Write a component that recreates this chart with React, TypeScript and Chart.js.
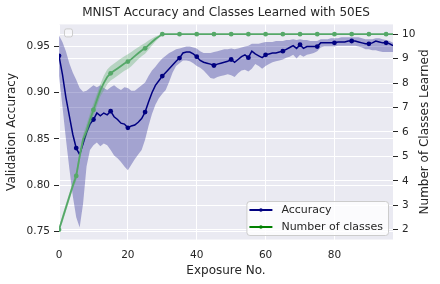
import React, { useEffect, useRef } from 'react';
import { Chart, registerables } from 'chart.js';

Chart.register(...registerables);

const FONT = "'DejaVu Sans', 'Liberation Sans', sans-serif";
const TEXT = '#262626';

const TITLE = 'MNIST Accuracy and Classes Learned with 50ES';
const X_TITLE = 'Exposure No.';
const Y_TITLE = 'Validation Accuracy';
const Y2_TITLE = 'Number of Classes Learned';
const SERIES_ACC = 'Accuracy';
const SERIES_CLS = 'Number of classes';

const EXPOSURES = [
  0, 1, 2, 3, 4, 5, 6, 7, 8, 9, 10, 11, 12, 13, 14, 15, 16, 17, 18, 19,
  20, 21, 22, 23, 24, 25, 26, 27, 28, 29, 30, 31, 32, 33, 34, 35, 36, 37, 38, 39,
  40, 41, 42, 43, 44, 45, 46, 47, 48, 49, 50, 51, 52, 53, 54, 55, 56, 57, 58, 59,
  60, 61, 62, 63, 64, 65, 66, 67, 68, 69, 70, 71, 72, 73, 74, 75, 76, 77, 78, 79,
  80, 81, 82, 83, 84, 85, 86, 87, 88, 89, 90, 91, 92, 93, 94, 95, 96, 97,
];

const ACC_MEAN = [
  0.940, 0.920, 0.895, 0.875, 0.855, 0.840, 0.833, 0.845, 0.857, 0.866,
  0.871, 0.878, 0.875, 0.878, 0.876, 0.880, 0.874, 0.871, 0.867, 0.866,
  0.862, 0.864, 0.865, 0.868, 0.872, 0.879, 0.890, 0.900, 0.908, 0.913,
  0.918, 0.922, 0.926, 0.930, 0.934, 0.9375, 0.943, 0.944, 0.944, 0.942,
  0.939, 0.935, 0.933, 0.932, 0.931, 0.9295, 0.931, 0.932, 0.933, 0.934,
  0.936, 0.933, 0.936, 0.939, 0.941, 0.938, 0.945, 0.942, 0.940, 0.938,
  0.941, 0.942, 0.943, 0.943, 0.944, 0.945, 0.947, 0.949, 0.951, 0.948,
  0.952, 0.948, 0.950, 0.950, 0.950, 0.950, 0.954, 0.954, 0.954, 0.954,
  0.954, 0.955, 0.955, 0.955, 0.956, 0.956, 0.956, 0.955, 0.954, 0.953,
  0.953, 0.954, 0.956, 0.955, 0.954, 0.954, 0.953, 0.951,
];

const ACC_HI = [
  0.962, 0.955, 0.945, 0.932, 0.922, 0.914, 0.905, 0.901, 0.902, 0.905,
  0.908, 0.906, 0.908, 0.905, 0.903, 0.906, 0.908, 0.905, 0.903, 0.906,
  0.905, 0.902, 0.902, 0.905, 0.908, 0.911, 0.918, 0.924, 0.928, 0.933,
  0.937, 0.940, 0.943, 0.945, 0.947, 0.948, 0.949, 0.950, 0.950, 0.949,
  0.948, 0.945, 0.943, 0.943, 0.943, 0.944, 0.945, 0.946, 0.947, 0.947,
  0.948, 0.947, 0.948, 0.949, 0.950, 0.951, 0.953, 0.953, 0.953, 0.954,
  0.955, 0.955, 0.955, 0.956, 0.956, 0.956, 0.957, 0.957, 0.958, 0.957,
  0.958, 0.957, 0.957, 0.956, 0.956, 0.956, 0.958, 0.958, 0.958, 0.959,
  0.959, 0.959, 0.960, 0.960, 0.960, 0.960, 0.960, 0.960, 0.959, 0.958,
  0.958, 0.958, 0.959, 0.959, 0.958, 0.957, 0.956, 0.954,
];

const ACC_LO = [
  0.918, 0.885, 0.850, 0.818, 0.788, 0.765, 0.754, 0.780, 0.820, 0.838,
  0.843, 0.846, 0.842, 0.845, 0.843, 0.838, 0.832, 0.829, 0.825, 0.820,
  0.816, 0.822, 0.828, 0.833, 0.838, 0.849, 0.864, 0.877, 0.887, 0.894,
  0.899, 0.903, 0.912, 0.922, 0.929, 0.932, 0.935, 0.935, 0.934, 0.932,
  0.929, 0.927, 0.924, 0.920, 0.916, 0.915, 0.917, 0.918, 0.919, 0.920,
  0.919, 0.917, 0.921, 0.924, 0.925, 0.923, 0.926, 0.931, 0.929, 0.926,
  0.929, 0.931, 0.933, 0.934, 0.935, 0.936, 0.938, 0.939, 0.941, 0.937,
  0.941, 0.939, 0.941, 0.942, 0.943, 0.945, 0.949, 0.950, 0.950, 0.950,
  0.950, 0.951, 0.951, 0.951, 0.951, 0.951, 0.951, 0.950, 0.949, 0.947,
  0.947, 0.946, 0.946, 0.945, 0.944, 0.944, 0.944, 0.944,
];

const CLASSES = [
  2.0, 2.45, 2.9, 3.35, 3.8, 4.2, 5.0, 5.7, 6.05, 6.5,
  6.9, 7.3, 7.7, 8.0, 8.25, 8.4, 8.5, 8.6, 8.7, 8.8,
  8.88, 8.98, 9.1, 9.22, 9.33, 9.42, 9.55, 9.68, 9.8, 9.9,
  10, 10, 10, 10, 10, 10, 10, 10, 10, 10,
  10, 10, 10, 10, 10, 10, 10, 10, 10, 10,
  10, 10, 10, 10, 10, 10, 10, 10, 10, 10,
  10, 10, 10, 10, 10, 10, 10, 10, 10, 10,
  10, 10, 10, 10, 10, 10, 10, 10, 10, 10,
  10, 10, 10, 10, 10, 10, 10, 10, 10, 10,
  10, 10, 10, 10, 10, 10, 10, 10,
];

const CLASS_HI = [
  2.1, 2.6, 3.05, 3.5, 3.95, 4.4, 5.2, 5.9, 6.3, 6.75,
  7.15, 7.55, 7.95, 8.3, 8.55, 8.7, 8.8, 8.9, 9.0, 9.1,
  9.18, 9.27, 9.37, 9.47, 9.56, 9.64, 9.74, 9.82, 9.9, 9.96,
  10, 10, 10, 10, 10, 10, 10, 10, 10, 10,
  10, 10, 10, 10, 10, 10, 10, 10, 10, 10,
  10, 10, 10, 10, 10, 10, 10, 10, 10, 10,
  10, 10, 10, 10, 10, 10, 10, 10, 10, 10,
  10, 10, 10, 10, 10, 10, 10, 10, 10, 10,
  10, 10, 10, 10, 10, 10, 10, 10, 10, 10,
  10, 10, 10, 10, 10, 10, 10, 10,
];

const CLASS_LO = [
  1.95, 2.3, 2.75, 3.2, 3.65, 4.0, 4.8, 5.5, 5.8, 6.25,
  6.65, 7.05, 7.45, 7.7, 7.95, 8.1, 8.2, 8.3, 8.4, 8.5,
  8.58, 8.69, 8.83, 8.97, 9.1, 9.2, 9.36, 9.54, 9.7, 9.84,
  10, 10, 10, 10, 10, 10, 10, 10, 10, 10,
  10, 10, 10, 10, 10, 10, 10, 10, 10, 10,
  10, 10, 10, 10, 10, 10, 10, 10, 10, 10,
  10, 10, 10, 10, 10, 10, 10, 10, 10, 10,
  10, 10, 10, 10, 10, 10, 10, 10, 10, 10,
  10, 10, 10, 10, 10, 10, 10, 10, 10, 10,
  10, 10, 10, 10, 10, 10, 10, 10,
];

const NAVY = '#000080';
const GREEN_LINE = '#55a868';
const GREEN_LEGEND = '#008000';

const markerRadius = (ctx: any) => (ctx.dataIndex % 5 === 0 ? 2.4 : 0);

const bgPlugin = {
  id: 'bg',
  beforeDraw(chart: any) {
    const { ctx, chartArea: a } = chart;
    ctx.save();
    ctx.fillStyle = '#ffffff';
    ctx.fillRect(0, 0, chart.width, chart.height);
    ctx.fillStyle = '#EAEAF2';
    ctx.fillRect(a.left, a.top, a.right - a.left, a.bottom - a.top);
    ctx.restore();
  },
};

function roundRect(ctx: CanvasRenderingContext2D, x: number, y: number, w: number, h: number, r: number) {
  ctx.beginPath();
  ctx.moveTo(x + r, y);
  ctx.lineTo(x + w - r, y);
  ctx.arcTo(x + w, y, x + w, y + r, r);
  ctx.lineTo(x + w, y + h - r);
  ctx.arcTo(x + w, y + h, x + w - r, y + h, r);
  ctx.lineTo(x + r, y + h);
  ctx.arcTo(x, y + h, x, y + h - r, r);
  ctx.lineTo(x, y + r);
  ctx.arcTo(x, y, x + r, y, r);
  ctx.closePath();
}

const overlayPlugin = {
  id: 'overlay',
  afterDraw(chart: any) {
    const { ctx, chartArea: a } = chart;
    ctx.save();

    // right axis title (reads bottom to top)
    ctx.fillStyle = TEXT;
    ctx.font = `12px ${FONT}`;
    ctx.textAlign = 'center';
    ctx.textBaseline = 'middle';
    ctx.translate(chart.width - 15, (a.top + a.bottom) / 2);
    ctx.rotate(-Math.PI / 2);
    ctx.fillText(Y2_TITLE, 0, 0);
    ctx.setTransform(1, 0, 0, 1, 0, 0);

    // empty legend box at top-left
    roundRect(ctx, a.left + 5.5, a.top + 4.5, 8, 8, 2);
    ctx.fillStyle = 'rgba(255,255,255,0.5)';
    ctx.fill();
    ctx.strokeStyle = '#cccccc';
    ctx.lineWidth = 1;
    ctx.stroke();

    // legend bottom-right
    const items = [
      { label: SERIES_ACC, color: NAVY },
      { label: SERIES_CLS, color: GREEN_LEGEND },
    ];
    ctx.font = `11px ${FONT}`;
    const tw = Math.max(...items.map((i) => ctx.measureText(i.label).width));
    const w = 35 + tw + 5;
    const h = 34;
    const x = a.right - 5 - w;
    const y = a.bottom - 4.5 - h;
    roundRect(ctx, x + 0.5, y + 0.5, w, h, 3);
    ctx.fillStyle = 'rgba(255,255,255,0.8)';
    ctx.fill();
    ctx.strokeStyle = '#cccccc';
    ctx.stroke();
    items.forEach((it, i) => {
      const cy = y + 9 + i * 17;
      ctx.strokeStyle = it.color;
      ctx.lineWidth = 2;
      ctx.beginPath();
      ctx.moveTo(x + 3, cy);
      ctx.lineTo(x + 26, cy);
      ctx.stroke();
      ctx.fillStyle = it.color;
      ctx.beginPath();
      ctx.arc(x + 14.5, cy, 1.8, 0, Math.PI * 2);
      ctx.fill();
      ctx.fillStyle = TEXT;
      ctx.textAlign = 'left';
      ctx.textBaseline = 'middle';
      ctx.fillText(it.label, x + 35, cy + 0.5);
    });
    ctx.restore();
  },
};

export default function App() {
  const ref = useRef<HTMLCanvasElement>(null);

  useEffect(() => {
    if (!ref.current) return;
    const chart = new Chart(ref.current, {
      type: 'line',
      data: {
        labels: EXPOSURES,
        datasets: [
          {
            label: SERIES_CLS,
            data: CLASSES,
            yAxisID: 'y1',
            borderColor: GREEN_LINE,
            backgroundColor: GREEN_LINE,
            borderWidth: 1.8,
            pointRadius: markerRadius,
            pointBackgroundColor: GREEN_LINE,
            pointBorderWidth: 0,
            fill: false,
            tension: 0,
          },
          {
            label: 'classHi',
            data: CLASS_HI,
            yAxisID: 'y1',
            borderColor: 'transparent',
            borderWidth: 0,
            pointRadius: 0,
            backgroundColor: 'rgba(85,168,104,0.35)',
            fill: '+1',
          },
          {
            label: 'classLo',
            data: CLASS_LO,
            yAxisID: 'y1',
            borderColor: 'transparent',
            borderWidth: 0,
            pointRadius: 0,
            fill: false,
          },
          {
            label: SERIES_ACC,
            data: ACC_MEAN,
            yAxisID: 'y',
            borderColor: NAVY,
            backgroundColor: NAVY,
            borderWidth: 1.5,
            pointRadius: markerRadius,
            pointBackgroundColor: NAVY,
            pointBorderWidth: 0,
            fill: false,
            tension: 0,
          },
          {
            label: 'accHi',
            data: ACC_HI,
            yAxisID: 'y',
            borderColor: 'transparent',
            borderWidth: 0,
            pointRadius: 0,
            backgroundColor: 'rgba(0,0,128,0.3)',
            fill: '+1',
          },
          {
            label: 'accLo',
            data: ACC_LO,
            yAxisID: 'y',
            borderColor: 'transparent',
            borderWidth: 0,
            pointRadius: 0,
            fill: false,
          },
        ],
      },
      options: {
        animation: false,
        responsive: true,
        maintainAspectRatio: false,
        layout: { padding: 0 },
        plugins: {
          legend: { display: false },
          tooltip: { enabled: false },
          title: {
            display: true,
            text: TITLE,
            fullSize: false,
            color: TEXT,
            font: { family: FONT, size: 12, weight: 'normal' },
            padding: { top: 6, bottom: 4 },
          },
        },
        scales: {
          x: {
            type: 'linear',
            min: 0,
            max: 97,
            ticks: {
              stepSize: 20,
              includeBounds: false,
              color: TEXT,
              font: { family: FONT, size: 10.5 },
              padding: 9,
              maxRotation: 0,
            },
            grid: { color: '#ffffff', lineWidth: 1, drawTicks: false },
            border: { display: false },
            title: {
              display: true,
              text: X_TITLE,
              color: TEXT,
              font: { family: FONT, size: 12 },
              padding: { top: 0, bottom: 6 },
            },
            afterFit: (s: any) => {
              s.height = 44.5;
            },
          },
          y: {
            type: 'linear',
            position: 'left',
            min: 0.741,
            max: 0.974,
            ticks: {
              stepSize: 0.05,
              includeBounds: false,
              color: TEXT,
              font: { family: FONT, size: 10.5 },
              padding: 4,
              callback: (v: any) => Number(v).toFixed(2),
            },
            grid: { color: '#ffffff', lineWidth: 1, tickColor: TEXT, tickLength: 5 },
            border: { display: false },
            title: {
              display: true,
              text: Y_TITLE,
              color: TEXT,
              font: { family: FONT, size: 12 },
              padding: { top: 5, bottom: 0 },
            },
            afterFit: (s: any) => {
              s.width = 59;
            },
          },
          y1: {
            type: 'linear',
            position: 'right',
            min: 1.6,
            max: 10.4,
            ticks: {
              stepSize: 1,
              includeBounds: false,
              color: TEXT,
              font: { family: FONT, size: 10.5 },
              padding: 4,
            },
            grid: { color: '#ffffff', lineWidth: 1, tickColor: TEXT, tickLength: 5 },
            border: { display: false },
            afterFit: (s: any) => {
              s.width = 47;
            },
          },
        },
      },
      plugins: [bgPlugin, overlayPlugin],
    } as any);
    return () => chart.destroy();
  }, []);

  return (
    <div style={{ position: 'absolute', left: 0, top: 0, width: 440, height: 284 }}>
      <canvas ref={ref} />
    </div>
  );
}
